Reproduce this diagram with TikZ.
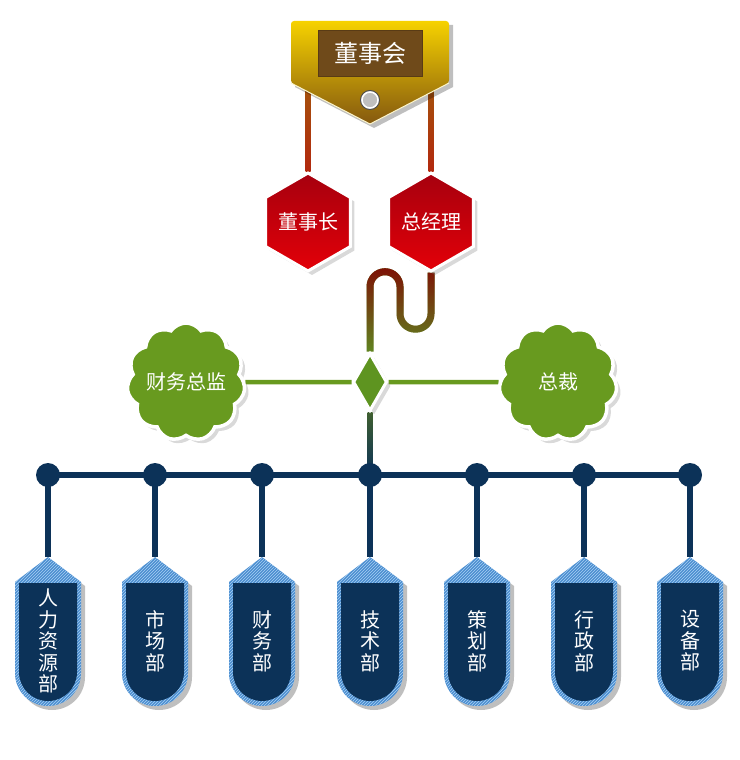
\documentclass[tikz,border=0pt]{standalone}
\usepackage{fontspec}
\newfontfamily\cjk{Noto Sans CJK SC}
\usetikzlibrary{shapes.geometric,shapes.symbols,shadows,fadings,patterns,backgrounds,calc}

\definecolor{navy}{HTML}{0C3258}
\definecolor{grass}{HTML}{689A1F}
\definecolor{leaf}{HTML}{5E9420}
\definecolor{rust}{HTML}{7E1206}
\definecolor{olive}{HTML}{5F8A22}
\definecolor{gold}{HTML}{F6D200}
\definecolor{umber}{HTML}{84580F}
\definecolor{cocoa}{HTML}{6F4A1A}
\definecolor{brick}{HTML}{B2280E}
\definecolor{bronze}{HTML}{A0620C}
\definecolor{crimson}{HTML}{E30008}
\definecolor{wine}{HTML}{A6000E}
\definecolor{sky}{HTML}{4C8ED0}
\definecolor{ice}{HTML}{A8D0F4}
\definecolor{moss}{HTML}{3F5F30}

\begin{document}
\begin{tikzpicture}[x=1pt,y=-1pt,
	softshadow/.style={drop shadow={opacity=0.3,shadow xshift=4pt,shadow yshift=-4pt}},
	boardshape/.pic={
		\fill[black,opacity=0.25] (4,4) -- (162,4) -- (162,66) -- (83,107) -- (4,66) -- cycle;
		\shade[top color=gold,bottom color=umber,rounded corners=3] (0,62) -- (0,0) -- (158,0) -- (158,62) -- (79,103) -- cycle;
		\draw[white!80!gold,line width=1] (0,62) -- (79,103) -- (158,62);
		\draw[gray!60!black,fill=gray!50,line width=1] (79,79) circle (9.5);
		\draw[white,line width=1.5] (79,79) circle (8);
	},
	tagshape/.pic={
		\fill[black,opacity=0.25] (4,4) -- (37,29) -- (37,120) arc (0:180:33) -- (-29,29) -- cycle;
		\fill[sky] (0,0) -- (33,25) -- (33,116) arc (0:180:33) -- (-33,25) -- cycle;
		\fill[pattern=north east lines,pattern color=ice] (0,0) -- (33,25) -- (33,116) arc (0:180:33) -- (-33,25) -- cycle;
		\fill[navy] (-29,26) -- (29,26) -- (29,115) arc (0:180:29) -- cycle;
	},
	titlenode/.style={minimum width=104,minimum height=46,inner sep=0,fill=cocoa,draw=cocoa!80!black,
		text=white,font=\cjk\fontsize{24}{26}\selectfont},
	hexnode/.style={regular polygon,regular polygon sides=6,shape border rotate=30,minimum size=85,inner sep=0,
		draw=white,line width=3,top color=wine,bottom color=crimson,text=white,
		font=\cjk\fontsize{20}{22}\selectfont,softshadow},
	cloudnode/.style={cloud,cloud puffs=11,cloud puff arc=110,aspect=1,minimum width=118,minimum height=118,
		inner sep=-10,draw=white,line width=3.5,fill=grass,text=white,
		font=\cjk\fontsize{20}{22}\selectfont,softshadow},
	gemnode/.style={diamond,minimum width=34,minimum height=58,inner sep=0,draw=white,line width=3,fill=leaf,softshadow},
	dotnode/.style={circle,fill=navy,minimum size=24,inner sep=0},
	tagnode/.style={minimum width=66,minimum height=168,inner sep=0,align=center,text=white,
		font=\cjk\fontsize{20}{21.5}\selectfont},
	wire/.style={line width=7},
	branch/.style={line width=4.5,color=grass},
	bus/.style={line width=5.5,color=navy}]

	\useasboundingbox (0,0) rectangle (739,760);

	\pic at (291,21) {boardshape};
	\node[titlenode] (council) at (370.5,53.5) {董事会};

	\node[hexnode] (chair) at (308,222) {董事长};
	\node[hexnode] (ceo) at (431,222) {总经理};

	\node[gemnode] (gem) at (370,382) {};
	\node[cloudnode] (cfo) at (186,382) {财务总监};
	\node[cloudnode] (president) at (558,382) {总裁};

	\node[dotnode] (d1) at (48,475) {};
	\node[dotnode] (d2) at (155,475) {};
	\node[dotnode] (d3) at (262,475) {};
	\node[dotnode] (d4) at (370,475) {};
	\node[dotnode] (d5) at (477,475) {};
	\node[dotnode] (d6) at (584,475) {};
	\node[dotnode] (d7) at (690,475) {};

	\pic at (48,557) {tagshape};
	\pic at (155,557) {tagshape};
	\pic at (262,557) {tagshape};
	\pic at (370,557) {tagshape};
	\pic at (477,557) {tagshape};
	\pic at (584,557) {tagshape};
	\pic at (690,557) {tagshape};

	\node[tagnode] (t1) at (48,641) {人\\力\\资\\源\\部};
	\node[tagnode] (t2) at (155,641) {市\\场\\部};
	\node[tagnode] (t3) at (262,641) {财\\务\\部};
	\node[tagnode] (t4) at (370,641) {技\\术\\部};
	\node[tagnode] (t5) at (477,641) {策\\划\\部};
	\node[tagnode] (t6) at (584,641) {行\\政\\部};
	\node[tagnode] (t7) at (690,641) {设\\备\\部};

	\begin{scope}[on background layer]
		\shade[top color=bronze,bottom color=brick] ($(council.center -| chair.north)+(-2.5,0)$) rectangle ($(chair.north)+(2.5,0)$);
		\shade[top color=bronze,bottom color=brick] ($(council.center -| ceo.north)+(-2.5,0)$) rectangle ($(ceo.north)+(2.5,0)$);

		\draw[wire,olive] (ceo.south) -- ++(0,41) arc (0:180:15.5) -- ++(0,-27) arc (0:-180:15) -- (gem.north);
		\draw[wire,rust,path fading=south] (ceo.south) -- ++(0,41) arc (0:180:15.5) -- ++(0,-27) arc (0:-180:15) -- (gem.north);

		\draw[branch] (cfo) -- (gem);
		\draw[branch] (gem) -- (president);

		\shade[top color=moss,bottom color=navy] ($(gem.south)+(-2.5,0)$) rectangle ($(d4.center)+(2.5,0)$);

		\draw[bus] (d1.center) -- (d7.center);
		\draw[bus] (d1.center) -- (t1.north);
		\draw[bus] (d2.center) -- (t2.north);
		\draw[bus] (d3.center) -- (t3.north);
		\draw[bus] (d4.center) -- (t4.north);
		\draw[bus] (d5.center) -- (t5.north);
		\draw[bus] (d6.center) -- (t6.north);
		\draw[bus] (d7.center) -- (t7.north);
	\end{scope}
\end{tikzpicture}
\end{document}
